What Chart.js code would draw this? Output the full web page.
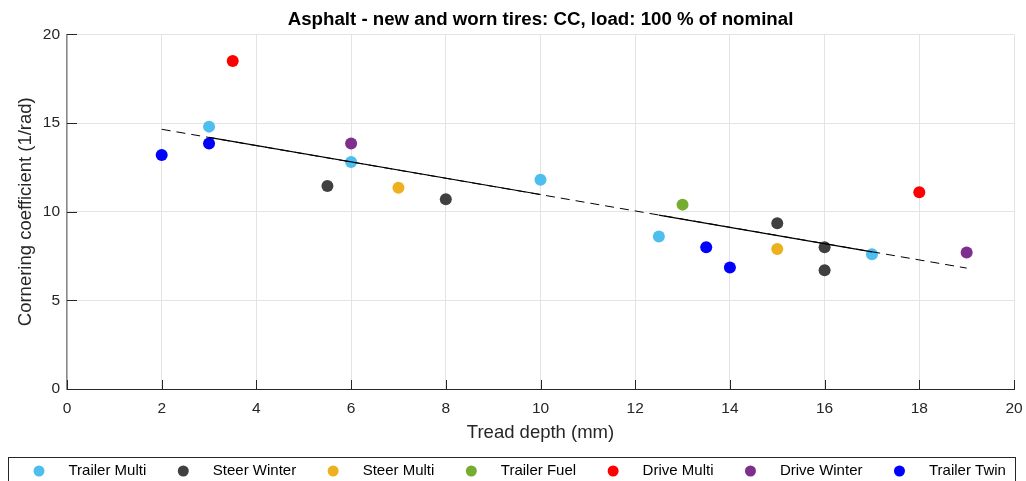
<!DOCTYPE html>
<html>
<head>
<meta charset="utf-8">
<script src="https://cdn.jsdelivr.net/npm/chart.js@4/dist/chart.umd.min.js"></script>
<style>
  html, body { margin: 0; padding: 0; background: #fff; }
  #wrap { width: 1026px; height: 481px; }
</style>
</head>
<body>
<div id="wrap"><canvas id="cc-chart"></canvas></div>
<script>
// series names and colours (MATLAB default palette)
var seriesNames = ["Trailer Multi", "Steer Winter", "Steer Multi", "Trailer Fuel", "Drive Multi", "Drive Winter", "Trailer Twin"];
var seriesColors = ["#4DBEEE", "#404040", "#EDB120", "#77AC30", "#FF0000", "#7E2F8E", "#0000FF"];

// tread depth (mm) and cornering coefficient (1/rad) per series
var trailerMultiX = [3, 6, 10, 12.5, 17];
var trailerMultiY = [14.8, 12.8, 11.8, 8.6, 7.6];
var steerWinterX = [5.5, 8, 15, 16, 16];
var steerWinterY = [11.45, 10.7, 9.35, 8.0, 6.7];
var steerMultiX = [7, 15];
var steerMultiY = [11.35, 7.9];
var trailerFuelX = [13];
var trailerFuelY = [10.4];
var driveMultiX = [3.5, 18];
var driveMultiY = [18.5, 11.1];
var driveWinterX = [6, 19];
var driveWinterY = [13.85, 7.7];
var trailerTwinX = [2, 3, 13.5, 14];
var trailerTwinY = [13.2, 13.85, 8.0, 6.85];

// linear trend (dashed over full range, solid pieces)
var trendX = [2, 19];
var trendY = [14.65, 6.82];
var solidAX = [3, 10];
var solidAY = [14.19, 10.97];
var solidBX = [12.5, 17];
var solidBY = [9.81, 7.74];

// axis ticks
var xTicks = [0, 2, 4, 6, 8, 10, 12, 14, 16, 18, 20];
var yTicks = [0, 5, 10, 15, 20];

var seriesX = [trailerMultiX, steerWinterX, steerMultiX, trailerFuelX, driveMultiX, driveWinterX, trailerTwinX];
var seriesY = [trailerMultiY, steerWinterY, steerMultiY, trailerFuelY, driveMultiY, driveWinterY, trailerTwinY];

var toPoints = function (xs, ys) {
    var pts = [];
    for (var i = 0; i < xs.length; i++) pts.push({x: xs[i], y: ys[i]});
    return pts;
};

var datasets = [];
datasets.push({type: 'line', label: 'trend', data: toPoints(trendX, trendY), borderColor: '#000', borderWidth: 1,
    borderDash: [9, 6], pointRadius: 0, fill: false, order: 0});
datasets.push({type: 'line', label: 'fitA', data: toPoints(solidAX, solidAY), borderColor: '#000', borderWidth: 1.2,
    pointRadius: 0, fill: false, order: 0});
datasets.push({type: 'line', label: 'fitB', data: toPoints(solidBX, solidBY), borderColor: '#000', borderWidth: 1.2,
    pointRadius: 0, fill: false, order: 0});
for (var s = 0; s < seriesNames.length; s++) {
    datasets.push({
        type: 'scatter',
        label: seriesNames[s],
        data: toPoints(seriesX[s], seriesY[s]),
        backgroundColor: seriesColors[s],
        borderColor: seriesColors[s],
        pointRadius: 6,
        pointBorderWidth: 0,
        isSeries: true,
        order: 1
    });
}

var FONT = "'Liberation Sans', Arial, Helvetica, sans-serif";

var matlabDecor = { // inward ticks + boxed legend
    id: 'matlabDecor',
    afterDraw: function (chart) {
        var ctx = chart.ctx;
        var xs = chart.scales.x, ys = chart.scales.y;
        var area = chart.chartArea;
        ctx.save();
        ctx.strokeStyle = '#262626';
        ctx.lineWidth = 1;
        ctx.beginPath();
        xTicks.forEach(function (v) {
            var px = Math.round(xs.getPixelForValue(v)) + 0.5;
            ctx.moveTo(px, area.bottom);
            ctx.lineTo(px, area.bottom - 9);
        });
        yTicks.forEach(function (v) {
            var py = Math.round(ys.getPixelForValue(v)) + 0.5;
            ctx.moveTo(area.left, py);
            ctx.lineTo(area.left + 10, py);
        });
        ctx.stroke();

        // legend
        ctx.strokeStyle = '#262626';
        ctx.strokeRect(8.5, 457.5, 1007, 40);
        ctx.font = "15px " + FONT;
        ctx.textBaseline = 'middle';
        ctx.textAlign = 'left';
        var mx = 39, my = 471;
        chart.data.datasets.forEach(function (ds) {
            if (!ds.isSeries) return;
            ctx.fillStyle = ds.backgroundColor;
            ctx.beginPath();
            ctx.arc(mx, my, 5.5, 0, Math.PI * 2);
            ctx.fill();
            ctx.fillStyle = '#000';
            ctx.fillText(ds.label, mx + 29.5, my);
            mx = mx + 29.5 + ctx.measureText(ds.label).width + 37;
        });
        ctx.restore();
    }
};

new Chart(document.getElementById("cc-chart"), {
    data: {datasets: datasets},
    options: {
        responsive: true,
        maintainAspectRatio: false,
        animation: false,
        layout: {padding: {left: 0, right: 12, top: 0, bottom: 37}},
        plugins: {
            legend: {display: false},
            tooltip: {enabled: false},
            title: {
                display: true,
                fullSize: false,
                text: "Asphalt - new and worn tires: CC, load: 100 % of nominal",
                color: '#000',
                font: {family: FONT, size: 18.7, weight: 'bold'},
                padding: {top: 9, bottom: 3}
            }
        },
        scales: {
            x: {
                type: 'linear',
                min: 0, max: 20,
                afterBuildTicks: function (scale) {
                    scale.ticks = xTicks.map(function (v) { return {value: v}; });
                },
                afterFit: function (scale) {
                    scale.height = 55;
                    scale.paddingLeft = 0;
                    scale.paddingRight = 0;
                },
                grid: {color: '#e3e3e3', drawTicks: false},
                border: {color: '#262626', width: 1},
                ticks: {color: '#262626', font: {family: FONT, size: 15.5}, padding: 10, maxRotation: 0},
                title: {display: true, text: 'Tread depth (mm)', color: '#262626',
                    font: {family: FONT, size: 18.5}, padding: {top: 0, bottom: 0}}
            },
            y: {
                type: 'linear',
                min: 0, max: 20,
                afterBuildTicks: function (scale) {
                    scale.ticks = yTicks.map(function (v) { return {value: v}; });
                },
                afterFit: function (scale) { scale.width = 67; },
                grid: {color: '#e3e3e3', drawTicks: false},
                border: {color: '#8a8a8a', width: 1.5},
                ticks: {color: '#262626', font: {family: FONT, size: 15.5}, padding: 7},
                title: {display: true, text: 'Cornering coefficient (1/rad)', color: '#262626',
                    font: {family: FONT, size: 18.5}, padding: {top: 15, bottom: 0}}
            }
        }
    },
    plugins: [matlabDecor]
});
</script>
</body>
</html>
